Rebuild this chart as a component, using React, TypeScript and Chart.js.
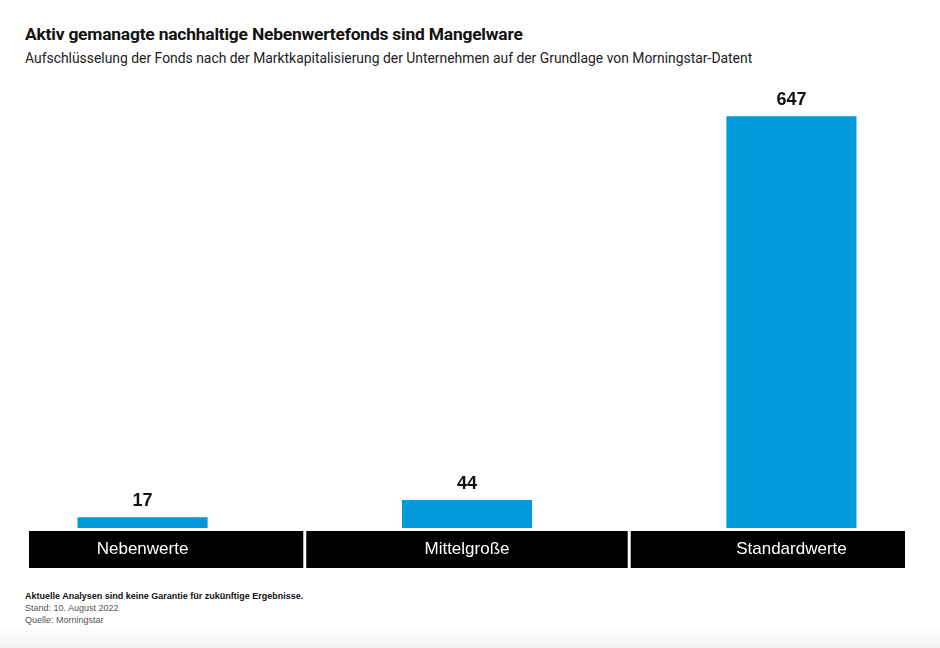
import React, { useEffect, useRef } from "react";
import { Chart, registerables } from "chart.js";

Chart.register(...registerables);

const categories = ["Nebenwerte", "Mittelgroße", "Standardwerte"];
const fundCounts = [17, 44, 647];
const title = "Aktiv gemanagte nachhaltige Nebenwertefonds sind Mangelware";
const subtitle =
  "Aufschlüsselung der Fonds nach der Marktkapitalisierung der Unternehmen auf der Grundlage von Morningstar-Datent";
const footnotes = [
  "Aktuelle Analysen sind keine Garantie für zukünftige Ergebnisse.",
  "Stand: 10. August 2022",
  "Quelle: Morningstar",
];

const BLUE = "#0099DA";

const boxesPlugin = {
  id: "catBoxes",
  beforeDraw(chart: any) {
    const { ctx, chartArea, scales } = chart;
    const x = scales.x;
    const n = categories.length;
    const top = chartArea.bottom + 3;
    const h = 37;
    const gap = 1.5;
    ctx.save();
    ctx.fillStyle = "#000";
    for (let i = 0; i < n; i++) {
      const l = i === 0 ? chartArea.left : x.getPixelForValue(i - 0.5) + gap;
      const r = i === n - 1 ? chartArea.right : x.getPixelForValue(i + 0.5) - gap;
      ctx.fillRect(l, top, r - l, h);
    }
    ctx.restore();
  },
};

const valueLabels = {
  id: "valueLabels",
  afterDatasetsDraw(chart: any) {
    const { ctx } = chart;
    const meta = chart.getDatasetMeta(0);
    ctx.save();
    ctx.fillStyle = "#111";
    ctx.font = "bold 18px 'Liberation Sans', Arial, sans-serif";
    ctx.textAlign = "center";
    ctx.textBaseline = "alphabetic";
    meta.data.forEach((el: any, i: number) => {
      ctx.fillText(String(fundCounts[i]), el.x, el.y - 11);
    });
    ctx.restore();
  },
};

export default function App() {
  const ref = useRef<HTMLCanvasElement>(null);
  useEffect(() => {
    if (!ref.current) return;
    const chart = new Chart(ref.current, {
      type: "bar",
      data: {
        datasets: [
          {
            data: fundCounts.map((v, i) => ({ x: i, y: v })),
            backgroundColor: BLUE,
            borderWidth: 0,
            categoryPercentage: 1,
            barPercentage: 0.401,
          },
        ],
      },
      options: {
        animation: false,
        responsive: false,
        maintainAspectRatio: false,
        layout: { padding: { left: 29, right: 35, top: 19, bottom: 0 } },
        plugins: {
          legend: { display: false },
          tooltip: { enabled: false },
          title: { display: false },
        },
        scales: {
          x: {
            type: "linear",
            min: -0.35,
            max: 2.35,
            offset: false,
            grid: { display: false, drawTicks: false, offset: false },
            border: { display: false },
            afterBuildTicks: (s: any) => {
              s.ticks = categories.map((_, i) => ({ value: i }));
            },
            ticks: {
              color: "#fff",
              padding: 11,
              autoSkip: false,
              maxRotation: 0,
              font: { family: "'Liberation Sans', Arial, sans-serif", size: 17 },
              callback: (v: any) => categories[v as number] ?? "",
            },
            afterFit: (s: any) => {
              s.height = 52;
            },
          },
          y: {
            display: false,
            min: 0,
            max: 690,
          },
        },
      },
      plugins: [boxesPlugin, valueLabels],
    });
    return () => chart.destroy();
  }, []);

  return (
    <div
      style={{
        position: "fixed",
        left: 0,
        top: 0,
        width: 940,
        height: 648,
        background: "#fff",
        overflow: "hidden",
      }}
    >
      <div
        style={{
          position: "absolute",
          left: 25,
          top: 24,
          fontFamily: "Roboto, sans-serif",
          fontWeight: 700,
          fontSize: 17.4,
          color: "#111",
          whiteSpace: "nowrap",
          letterSpacing: -0.2,
        }}
      >
        {title}
      </div>
      <div
        style={{
          position: "absolute",
          left: 25,
          top: 50,
          fontFamily: "Roboto, sans-serif",
          fontSize: 13.9,
          color: "#222",
          whiteSpace: "nowrap",
        }}
      >
        {subtitle}
      </div>
      <canvas
        ref={ref}
        width={940}
        height={510}
        style={{ position: "absolute", left: 0, top: 70, width: 940, height: 510 }}
      />
      <div
        style={{
          position: "absolute",
          left: 25,
          top: 590,
          fontFamily: "'Liberation Sans', Arial, sans-serif",
          fontSize: 9,
          lineHeight: "12px",
          color: "#555",
          whiteSpace: "nowrap",
        }}
      >
        <div style={{ color: "#111", fontWeight: 600 }}>{footnotes[0]}</div>
        <div>{footnotes[1]}</div>
        <div>{footnotes[2]}</div>
      </div>
      <div
        style={{
          position: "absolute",
          left: 0,
          top: 628,
          width: 940,
          height: 20,
          background: "linear-gradient(#fdfdfd, #f3f3f3)",
        }}
      />
    </div>
  );
}
